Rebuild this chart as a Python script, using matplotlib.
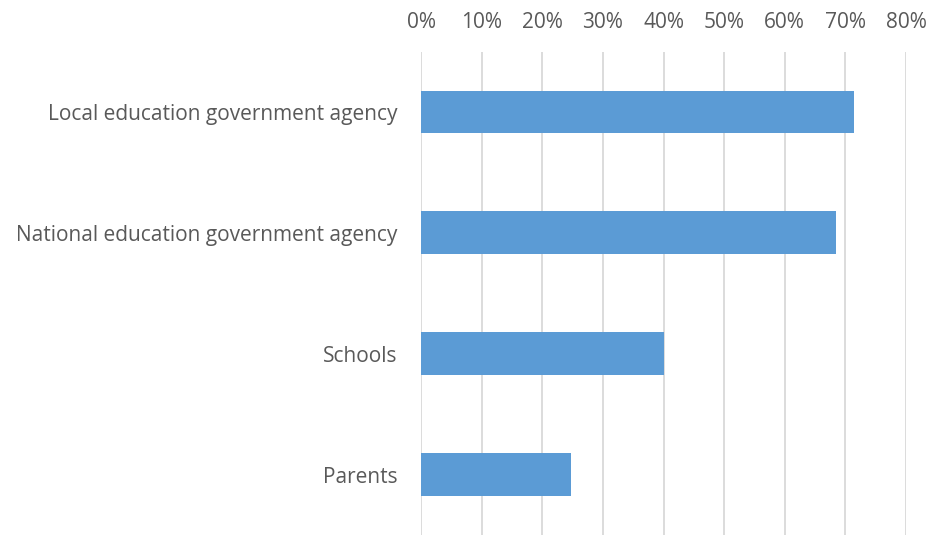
import matplotlib
matplotlib.use("Agg")
import matplotlib.pyplot as plt
from matplotlib.ticker import PercentFormatter

# share of respondents per actor
categories = [
    "Local education government agency",
    "National education government agency",
    "Schools",
    "Parents",
]
shares = [71.4, 68.4, 40.1, 24.7]
ticks = [0, 10, 20, 30, 40, 50, 60, 70, 80]

plt.rcParams["font.family"] = ["Open Sans", "DejaVu Sans"]
text_color = "#595959"

fig = plt.figure(figsize=(9.28, 5.35), dpi=100)
ax = fig.add_axes([0.4537, 0.0, 0.5226, 0.9037])

y = range(len(categories))
ax.barh(y, shares, height=0.355, color="#5B9BD5", zorder=3)

ax.set_xlim(0, 80)
ax.set_ylim(len(categories) - 0.5, -0.5)
ax.set_xticks(ticks)
ax.xaxis.set_major_formatter(PercentFormatter(decimals=0))
ax.xaxis.tick_top()
ax.set_yticks(list(y))
ax.set_yticklabels(categories)

ax.grid(axis="x", color="#D9D9D9", linewidth=1.3, zorder=0)
for s in ax.spines.values():
    s.set_visible(False)
ax.tick_params(axis="x", length=0, pad=13, labelsize=15, labelcolor=text_color)
ax.tick_params(axis="y", length=0, pad=17, labelsize=15, labelcolor=text_color)

fig.savefig("out.png", dpi=100)
